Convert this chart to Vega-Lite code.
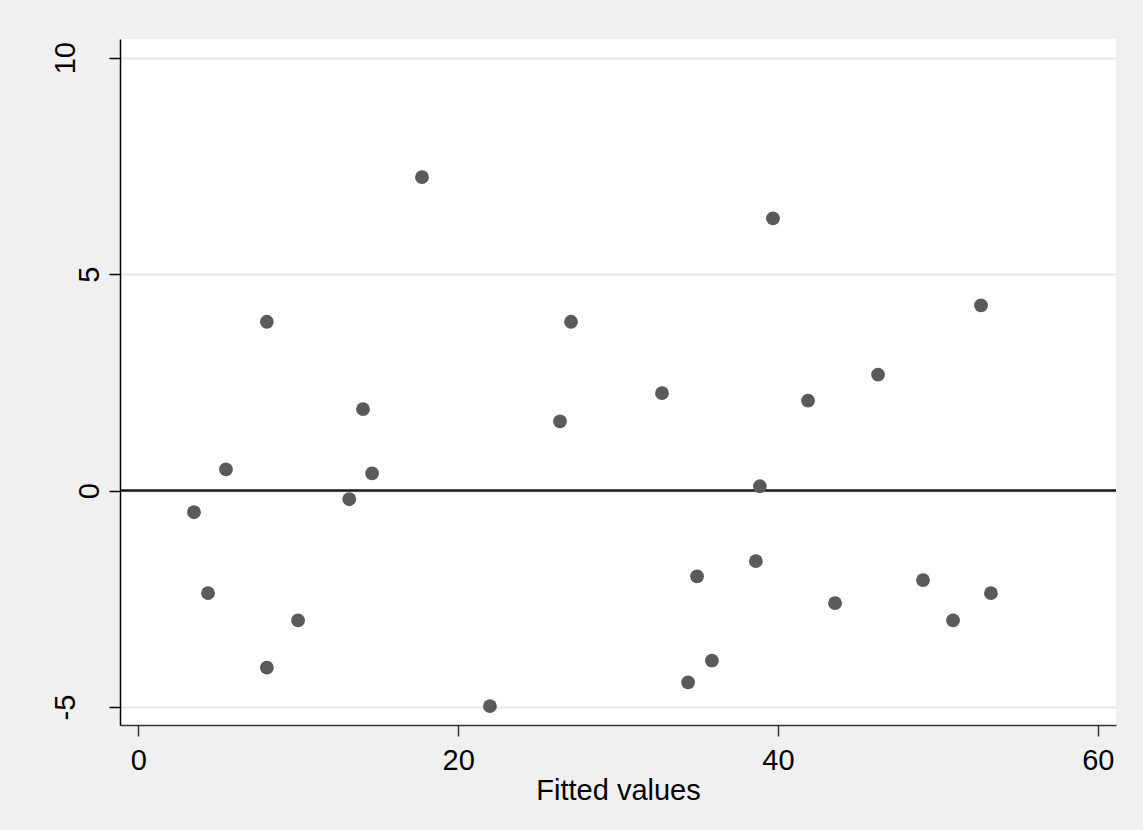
{
  "$schema": "https://vega.github.io/schema/vega-lite/v6.json",
  "width": 996,
  "height": 686,
  "autosize": {"type": "none"},
  "padding": {"left": 120, "top": 39, "right": 27, "bottom": 105},
  "background": "#F0F0F0",
  "config": {
    "view": {"fill": "white", "stroke": null},
    "font": "Liberation Sans"
  },
  "data": {
    "values": [
      {"fitted": 3.48, "resid": -0.50},
      {"fitted": 4.36, "resid": -2.37},
      {"fitted": 5.48, "resid": 0.49},
      {"fitted": 8.04, "resid": 3.90},
      {"fitted": 8.04, "resid": -4.09},
      {"fitted": 9.99, "resid": -3.00},
      {"fitted": 13.19, "resid": -0.20},
      {"fitted": 14.05, "resid": 1.88},
      {"fitted": 14.62, "resid": 0.40},
      {"fitted": 17.74, "resid": 7.24},
      {"fitted": 21.99, "resid": -4.98},
      {"fitted": 26.37, "resid": 1.60},
      {"fitted": 27.06, "resid": 3.90},
      {"fitted": 32.75, "resid": 2.25},
      {"fitted": 34.38, "resid": -4.43},
      {"fitted": 34.94, "resid": -1.98},
      {"fitted": 35.87, "resid": -3.93},
      {"fitted": 38.62, "resid": -1.63},
      {"fitted": 38.87, "resid": 0.10},
      {"fitted": 39.69, "resid": 6.29},
      {"fitted": 41.88, "resid": 2.08},
      {"fitted": 43.57, "resid": -2.60},
      {"fitted": 46.26, "resid": 2.68},
      {"fitted": 49.07, "resid": -2.07},
      {"fitted": 50.95, "resid": -3.00},
      {"fitted": 52.70, "resid": 4.28},
      {"fitted": 53.32, "resid": -2.37}
    ]
  },
  "layer": [
    {
      "data": {"values": [{"ref": 0}]},
      "mark": {"type": "rule", "color": "#1a1a1a", "strokeWidth": 2.5},
      "encoding": {
        "y": {"field": "ref", "type": "quantitative"}
      }
    },
    {
      "mark": {"type": "circle", "size": 190, "color": "#5a5a5a", "opacity": 1},
      "encoding": {
        "x": {
          "field": "fitted",
          "type": "quantitative",
          "scale": {"domain": [-1.145, 61.14], "nice": false, "zero": false},
          "axis": {
            "values": [0, 20, 40, 60],
            "grid": false,
            "domainColor": "#333333",
            "domainWidth": 1.5,
            "tickColor": "#333333",
            "tickWidth": 1.5,
            "tickSize": 11,
            "labelPadding": 10,
            "labelFontSize": 29,
            "labelColor": "#000000",
            "title": "Fitted values",
            "titleFontSize": 29,
            "titleFontWeight": "normal",
            "titleColor": "#000000",
            "titlePadding": 1
          }
        },
        "y": {
          "field": "resid",
          "type": "quantitative",
          "scale": {"domain": [-5.415, 10.432], "nice": false, "zero": false},
          "axis": {
            "values": [-5, 0, 5, 10],
            "labelExpr": "datum.value < 0 ? '-' + abs(datum.value) : '' + datum.value",
            "grid": true,
            "gridColor": "#E6E6E6",
            "gridWidth": 2,
            "domainColor": "#000000",
            "domainWidth": 1.5,
            "tickColor": "#000000",
            "tickWidth": 1.5,
            "tickSize": 11,
            "labelPadding": {"condition": {"test": "datum.value == 10 || datum.value == -5", "value": 35}, "value": 11},
            "labelFontSize": 29,
            "labelColor": "#000000",
            "labelAngle": -90,
            "labelAlign": "center",
            "labelBaseline": "alphabetic",
            "title": null
          }
        }
      }
    }
  ]
}
